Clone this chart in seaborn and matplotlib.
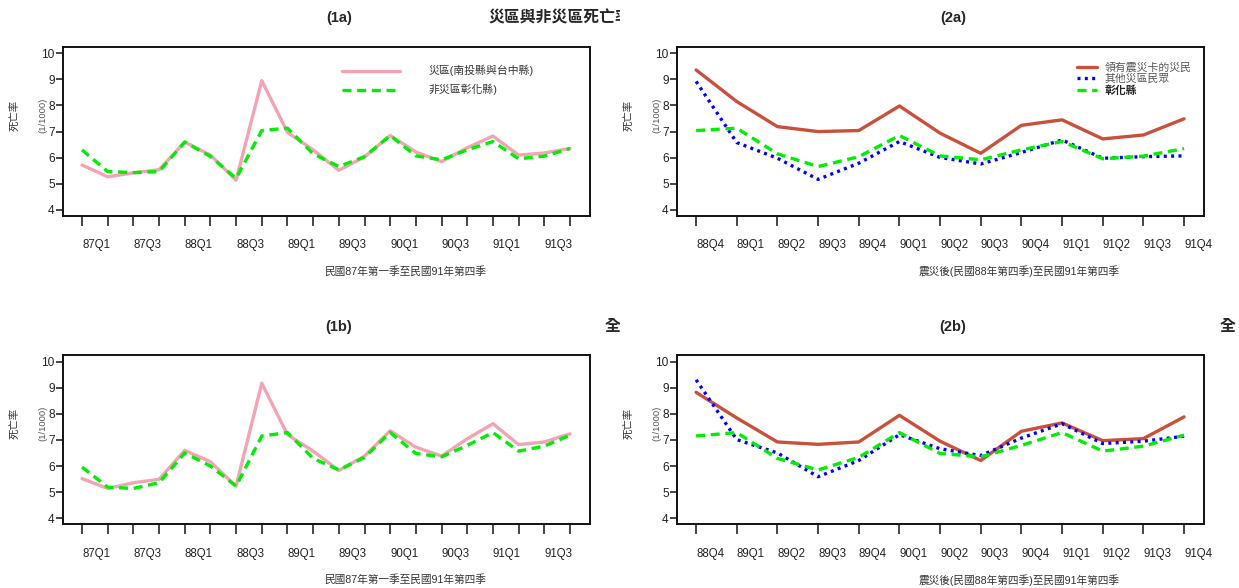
import matplotlib
matplotlib.use('Agg')
import matplotlib.pyplot as plt
import seaborn as sns
import pandas as pd

# quarters 87Q1..91Q4 and post-quake 88Q4..91Q4
quarters = [f'{y}Q{q}' for y in range(87, 92) for q in range(1, 5)]
post_q = quarters[7:]

# (1a) disaster zone vs non-zone
zone_a = [5.72, 5.27, 5.42, 5.54, 6.60, 6.10, 5.14, 8.95, 6.97, 6.30, 5.52, 6.03,
          6.85, 6.22, 5.85, 6.38, 6.83, 6.10, 6.18, 6.35]
chz_a = [6.30, 5.47, 5.43, 5.47, 6.60, 6.05, 5.21, 7.04, 7.13, 6.15, 5.66, 6.04,
         6.85, 6.07, 5.92, 6.30, 6.62, 5.96, 6.06, 6.35]
# (1b)
zone_b = [5.52, 5.14, 5.36, 5.49, 6.60, 6.16, 5.23, 9.17, 7.20, 6.57, 5.83, 6.38,
          7.35, 6.72, 6.38, 7.04, 7.62, 6.82, 6.92, 7.23]
chz_b = [5.96, 5.19, 5.14, 5.36, 6.50, 6.00, 5.23, 7.15, 7.28, 6.29, 5.85, 6.33,
         7.28, 6.48, 6.35, 6.79, 7.28, 6.57, 6.76, 7.18]
# (2a) card holders / other residents
card_a = [9.36, 8.15, 7.19, 7.00, 7.04, 7.98, 6.94, 6.17, 7.24, 7.45, 6.72, 6.87, 7.49]
other_a = [8.92, 6.58, 5.98, 5.17, 5.79, 6.62, 6.01, 5.76, 6.20, 6.68, 5.98, 6.04, 6.07]
# (2b)
card_b = [8.82, 7.84, 6.92, 6.83, 6.92, 7.94, 6.95, 6.21, 7.33, 7.65, 6.97, 7.05, 7.88]
other_b = [9.30, 7.01, 6.50, 5.59, 6.21, 7.20, 6.66, 6.40, 7.07, 7.62, 6.86, 6.95, 7.14]

sns.set_style('white')
plt.rcParams['font.family'] = ['Liberation Sans', 'Noto Sans CJK TC']

W, H = 1239, 588
fig = plt.figure(figsize=(W / 100, H / 100), dpi=100)

PINK = '#F2A3B4'
GREEN = '#00EE00'
RED = '#C9503A'
BLUE = '#0000FF'
DASH = (0, (2.7, 1.7))
DOT = (0, (0.9, 1.3))


def make_ax(left, top, right, bottom):
    return fig.add_axes([left / W, 1 - bottom / H, (right - left) / W, (bottom - top) / H])


def style_ax(ax, labels, every, xlim, title, xlabel, tx, tl_y):
    ax.set_xlim(*xlim)
    ax.set_ylim(3.78, 10.25)
    ax.set_yticks(range(4, 11))
    ax.set_xticks(range(len(labels)))
    ax.set_xticklabels([l if i % every == 0 else '' for i, l in enumerate(labels)],
                       ha='left', fontsize=8.3, color='#222222')
    ax.tick_params(axis='x', direction='out', length=7, width=1.2, pad=10, bottom=True)
    ax.tick_params(axis='y', direction='out', length=5, width=1.2, pad=1,
                   labelsize=8.6, labelcolor='#222222', left=True)
    for s in ax.spines.values():
        s.set_color('#111111')
        s.set_linewidth(1.4)
    ax.set_xlabel('')
    ax.set_ylabel('')
    pos = ax.get_position()
    fig.text(tx / W, 1 - tl_y / H, title, ha='center', va='center',
             fontsize=10.5, fontweight='bold')
    ax.text(0.65, -0.33, xlabel, transform=ax.transAxes, ha='center', va='center',
            fontsize=7.7, color='#333333')
    x0 = pos.x0 * W
    yc = (1 - (pos.y0 + pos.y1) / 2) * H - 16
    fig.text((x0 - 48) / W, 1 - yc / H, '死亡率', rotation=90, ha='center',
             va='center', fontsize=7.5, color='#333333')
    fig.text((x0 - 20) / W, 1 - yc / H, '(1/1000)', rotation=90, ha='center',
             va='center', fontsize=6.8, color='#555555')


# clip regions for the cut-off titles
clip_l = fig.add_axes([0, 0, 620 / W, 1])
clip_l.axis('off')
clip_l.text(488 / 620, 1 - 18 / H, '災區與非災區死亡率', ha='left', va='center',
            fontsize=11.4, fontweight='bold', clip_on=True, transform=clip_l.transAxes)
clip_l.text(605 / 620, 1 - 327 / H, '全國', ha='left', va='center',
            fontsize=11.4, fontweight='bold', clip_on=True, transform=clip_l.transAxes)
fig.text(1220 / W, 1 - 327 / H, '全', ha='left', va='center',
         fontsize=11.4, fontweight='bold')

panels_left = [
    ((63, 46.7, 590, 215.7), zone_a, chz_a, '(1a)', 18, True),
    ((63, 355, 590, 524), zone_b, chz_b, '(1b)', 327, False),
]
for box, zone, chz, title, ty, leg in panels_left:
    ax = make_ax(*box)
    df = pd.DataFrame({'q': range(len(quarters)), 'zone': zone, 'chz': chz})
    sns.lineplot(data=df, x='q', y='zone', ax=ax, color=PINK, linewidth=2.4,
                 label='災區(南投縣與台中縣)')
    sns.lineplot(data=df, x='q', y='chz', ax=ax, color=GREEN, linewidth=2.4,
                 linestyle=DASH, label='非災區彰化縣)')
    style_ax(ax, quarters, 2, (-0.74, 19.78), title, '民國87年第一季至民國91年第四季', 339, ty)
    if leg:
        ax.legend(loc='upper left', bbox_to_anchor=(0.51, 0.95), frameon=False,
                  handlelength=5.4, labelspacing=0.7, handletextpad=2.6,
                  prop={'size': 7.8}, labelcolor='#333333')
    else:
        ax.get_legend().remove()

panels_right = [
    ((677, 46.7, 1204, 215.7), card_a, other_a, chz_a[7:], '(2a)', 18, True),
    ((677, 355, 1204, 524), card_b, other_b, chz_b[7:], '(2b)', 327, False),
]
for box, card, other, chz, title, ty, leg in panels_right:
    ax = make_ax(*box)
    df = pd.DataFrame({'q': range(len(post_q)), 'card': card, 'other': other, 'chz': chz})
    sns.lineplot(data=df, x='q', y='card', ax=ax, color=RED, linewidth=2.4,
                 label='領有震災卡的災民')
    sns.lineplot(data=df, x='q', y='other', ax=ax, color=BLUE, linewidth=2.4,
                 linestyle=DOT, label='其他災區民眾')
    sns.lineplot(data=df, x='q', y='chz', ax=ax, color=GREEN, linewidth=2.4,
                 linestyle=DASH, label='彰化縣')
    style_ax(ax, post_q, 1, (-0.47, 12.49), title, '震災後(民國88年第四季)至民國91年第四季', 953, ty)
    if leg:
        lg = ax.legend(loc='upper left', bbox_to_anchor=(0.74, 0.965), frameon=False,
                       handlelength=1.9, labelspacing=0.1, handletextpad=0.7,
                       prop={'size': 7.8}, labelcolor='#555555')
        lg.get_texts()[2].set_color('#222222')
        lg.get_texts()[2].set_fontweight('bold')
    else:
        ax.get_legend().remove()

fig.savefig('out.png', dpi=100)
